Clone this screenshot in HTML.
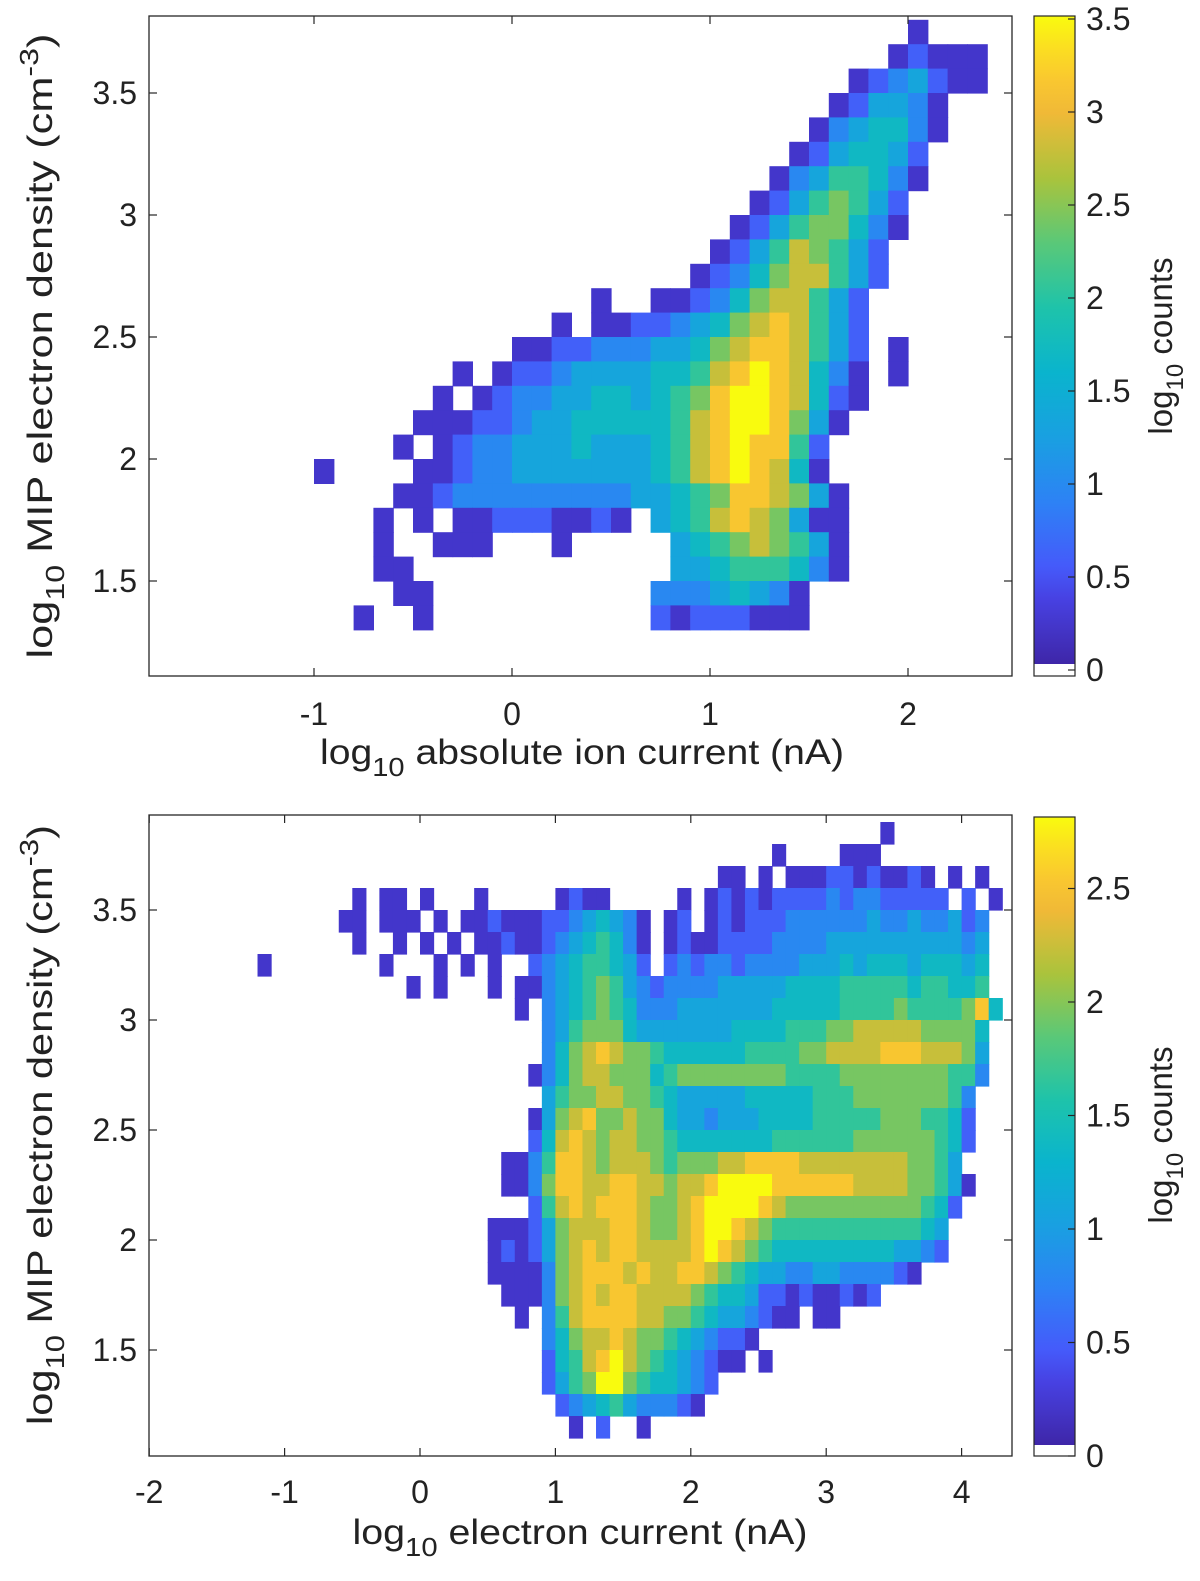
<!DOCTYPE html>
<html><head><meta charset="utf-8">
<style>
html,body{margin:0;padding:0;background:#fff;}
svg{display:block;font-family:"Liberation Sans",Arial,sans-serif;}
</style></head>
<body>
<svg id="fig" width="1200" height="1581" viewBox="0 0 1200 1581" xmlns="http://www.w3.org/2000/svg">
<defs>
<clipPath id="clipTop"><rect x="149" y="16" width="863" height="660"/></clipPath>
<clipPath id="clipBot"><rect x="149" y="815" width="863" height="641"/></clipPath>
<linearGradient id="gradTop" x1="0" y1="1" x2="0" y2="0"></linearGradient>
<linearGradient id="gradBot" x1="0" y1="1" x2="0" y2="0"></linearGradient>
</defs>
<g id="topPanel">
  <rect x="149" y="16" width="863" height="660" fill="#fff"/>
  <g id="heatTop" clip-path="url(#clipTop)"></g>
  <rect x="149" y="16" width="863" height="660" fill="none" stroke="#262626" stroke-width="1.3"/>
  <g id="ticksTop"></g>
  <text x="582" y="764" text-anchor="middle" font-size="35" fill="#222" textLength="524" lengthAdjust="spacingAndGlyphs">log<tspan font-size="26" dy="12">10</tspan><tspan dy="-12"> absolute ion current (nA)</tspan></text>
  <text transform="translate(52,346) rotate(-90)" text-anchor="middle" font-size="35" fill="#222" textLength="625" lengthAdjust="spacingAndGlyphs">log<tspan font-size="26" dy="12">10</tspan><tspan dy="-12"> MIP electron density (cm</tspan><tspan font-size="26" dy="-14">-3</tspan><tspan dy="14">)</tspan></text>
  <g id="cbTop"></g>
  <text transform="translate(1172,346) rotate(-90)" text-anchor="middle" font-size="33" fill="#222">log<tspan font-size="24" dy="11">10</tspan><tspan dy="-11"> counts</tspan></text>
</g>
<g id="botPanel">
  <rect x="149" y="815" width="863" height="641" fill="#fff"/>
  <g id="heatBot" clip-path="url(#clipBot)"></g>
  <rect x="149" y="815" width="863" height="641" fill="none" stroke="#262626" stroke-width="1.3"/>
  <g id="ticksBot"></g>
  <text x="580" y="1544" text-anchor="middle" font-size="35" fill="#222" textLength="455" lengthAdjust="spacingAndGlyphs">log<tspan font-size="26" dy="12">10</tspan><tspan dy="-12"> electron current (nA)</tspan></text>
  <text transform="translate(52,1125) rotate(-90)" text-anchor="middle" font-size="35" fill="#222" textLength="600" lengthAdjust="spacingAndGlyphs">log<tspan font-size="26" dy="12">10</tspan><tspan dy="-12"> MIP electron density (cm</tspan><tspan font-size="26" dy="-14">-3</tspan><tspan dy="14">)</tspan></text>
  <g id="cbBot"></g>
  <text transform="translate(1172,1135) rotate(-90)" text-anchor="middle" font-size="33" fill="#222">log<tspan font-size="24" dy="11">10</tspan><tspan dy="-11"> counts</tspan></text>
</g>
</svg>
<script>
// ---- data: top panel (digit 0-9 = fraction of max log10 counts, '.' = empty)
const topXTicks = [-1, 0, 1, 2];
const topYTicks = [1.5, 2, 2.5, 3, 3.5];
const topCbTicks = [0, 0.5, 1, 1.5, 2, 2.5, 3, 3.5];
const topMax = 3.5;
const topX0 = -1.0, topDX = 0.1, topYTop = 3.8, topDY = 0.1;
const topRows = [
"..............................0...",
".............................01000",
"...........................0123100",
"..........................013320..",
".........................0234420..",
"........................0134431...",
".......................02355420...",
"......................01356531....",
".....................013566420....",
"....................013576531.....",
"...................0124677531.....",
"..............0..00124677531......",
"............0.0011234678753 1......",
"..........001122233467887531.0....",
".......0.0112333344578987420.0....",
"......0.012233443456899874 10......",
".....000112334444457899863 0.......",
"....0.01223334333457898851........",
"0....001223333333457898740........",
"....001222222222334568876 30........",
"...0.0.0011100 10.34578763 00.......",
"...0..000...0.....34567653 0........",
"...00.............3345554 20........",
"....00...........2223432 0.........",
"..0..0...........1011100 0........."
];
// ---- data: bottom panel
const botXTicks = [-2, -1, 0, 1, 2, 3, 4];
const botYTicks = [1.5, 2, 2.5, 3, 3.5];
const botCbTicks = [0, 0.5, 1, 1.5, 2, 2.5];
const botMax = 2.8;
const botX0 = -1.2, botDX = 0.1, botYTop = 3.9, botDY = 0.1;
const botRows = [
"..... ..... ..... ..... ..... ..... ..... ..... ..... .0... .....",
"..... ..... ..... ..... ..... ..... ..... ...0. ...00 0.... .....",
"..... ..... ..... ..... ..... ..... ....0 0.0.0 00110 10010 .0.0.",
"..... ..0.0 0.0.. .0... ..010 0.... .0.01 01011 11212 21111 1.1.0",
"..... .00.0 00.0. 00100 01123 4320. 01.01 01112 22222 32232 2312.",
"..... ..0.. 0.0.0 .0010 01234 5420. 01001 11122 22333 33333 3323.",
"0.... ....0 ...0. 0.0.. 12345 5431. 12122 12222 33343 44434 4434.",
"..... ..... .0.0. ..0.0 02345 65321 22223 33334 44455 55545 5445.",
"..... ..... ..... ....0 .2345 65422 23333 33344 44455 55655 55684",
"..... ..... ..... ..... .2356 66433 33333 44445 55667 77776 6664.",
"..... ..... ..... ..... .2467 87665 44444 45555 66777 78887 7763.",
"..... ..... ..... ..... 02467 76664 56666 66665 55566 66666 6552.",
"..... ..... ..... ..... .3566 77665 43333 34444 45556 66666 652..",
"..... ..... ..... ..... 03678 66766 43323 33444 45555 56665 541..",
"..... ..... ..... ..... 14787 67766 54444 44455 55556 66666 541..",
"..... ..... ..... ...00 25887 67776 56667 78888 77777 77766 53...",
"..... ..... ..... ...00 26887 78877 67789 99988 88887 77766 530..",
"..... ..... ..... ..... 15787 88876 67899 99876 66666 66665 41...",
"..... ..... ..... ..000 13677 78876 67899 87655 55555 55554 3....",
"..... ..... ..... ..010 13678 78877 77898 76544 44444 44332 1....",
"..... ..... ..... ..000 02678 88787 78876 54332 23322 2210. .....",
"..... ..... ..... ...00 02678 78877 77654 43110 10010 1.... .....",
"..... ..... ..... ....0 .2578 88877 66543 32100 .00.. ..... .....",
"..... ..... ..... ..... .2467 78766 54321 10... ..... ..... .....",
"..... ..... ..... ..... .1457 89765 43210 0.0.. ..... ..... .....",
"..... ..... ..... ..... .1356 99654 4321. ..... ..... ..... .....",
"..... ..... ..... ..... ..123 45322 210.. ..... ..... ..... .....",
"..... ..... ..... ..... ...0. 1..0. ..... ..... ..... ..... ....."
];

const NS = "http://www.w3.org/2000/svg";
const PAR = [[0,62,38,168],[0.1,71,65,226],[0.15,69,90,250],[0.25,45,130,245],[0.35,25,160,225],[0.45,10,180,205],[0.55,30,195,170],[0.65,90,200,120],[0.75,170,195,60],[0.85,240,185,55],[0.92,252,205,45],[1,249,251,14]];
function parula(t){
  t=Math.max(0,Math.min(1,t));
  for(let i=1;i<PAR.length;i++){
    if(t<=PAR[i][0]){const a=PAR[i-1],b=PAR[i],f=(t-a[0])/(b[0]-a[0]);
      return "rgb("+[1,2,3].map(k=>Math.round(a[k]+(b[k]-a[k])*f)).join(",")+")";}
  }
  return "rgb(249,251,14)";
}
function mk(tag,attrs,parent){const e=document.createElementNS(NS,tag);for(const k in attrs)e.setAttribute(k,attrs[k]);parent.appendChild(e);return e;}

// axis functions
const topXs = v => 512 + v*198;
const topYs = v => 93 - (v-3.5)*244;
const botXs = v => 420 + v*135.4;
const botYs = v => 910 - (v-3.5)*220;
const topCb = v => 670 - v*186;
const botCb = v => 1456 - v*227;

function heat(g, rows, x0, dx, yTop, dy, xs, ys, maxV){
  rows.forEach((row, r)=>{
    const s=row.replace(/ /g,"");
    for(let c=0;c<s.length;c++){
      const ch=s[c]; if(ch==='.') continue;
      const v=(+ch)/9*maxV;
      const xa=xs(x0+c*dx), xb=xs(x0+(c+1)*dx);
      const ya=ys(yTop-r*dy), yb=ys(yTop-(r+1)*dy);
      const e=mk('rect',{x:xa.toFixed(2),y:ya.toFixed(2),width:(xb-xa+0.6).toFixed(2),height:(yb-ya+0.6).toFixed(2),fill:parula(0.06+0.94*v/maxV)},g);
      
      
    }
  });
}
heat(document.getElementById('heatTop'), topRows, topX0, topDX, topYTop, topDY, topXs, topYs, topMax);
heat(document.getElementById('heatBot'), botRows, botX0, botDX, botYTop, botDY, botXs, botYs, botMax);

function ticks(g, xt, yt, xs, ys, L, R, T, B, xLabY){
  xt.forEach(v=>{
    const x=xs(v);
    mk('line',{x1:x,x2:x,y1:B,y2:B-8,stroke:'#262626','stroke-width':1.2},g);
    mk('line',{x1:x,x2:x,y1:T,y2:T+8,stroke:'#262626','stroke-width':1.2},g);
    const t=mk('text',{x:x,y:xLabY,'text-anchor':'middle','font-size':32,fill:'#222'},g);
    t.textContent=String(v);
    
    
  });
  yt.forEach(v=>{
    const y=ys(v);
    mk('line',{x1:L,x2:L+8,y1:y,y2:y,stroke:'#262626','stroke-width':1.2},g);
    mk('line',{x1:R,x2:R-8,y1:y,y2:y,stroke:'#262626','stroke-width':1.2},g);
    const t=mk('text',{x:137,y:y+11,'text-anchor':'end','font-size':32,fill:'#222'},g);
    t.textContent=String(v);
    
    
  });
}
ticks(document.getElementById('ticksTop'), topXTicks, topYTicks, topXs, topYs, 149, 1012, 16, 676, 725);
ticks(document.getElementById('ticksBot'), botXTicks, botYTicks, botXs, botYs, 149, 1012, 815, 1456, 1503);

function colorbar(g, gradId, cbTicks, cbs, top, whiteTop, bottom){
  const grad=document.getElementById(gradId);
  for(let i=0;i<=20;i++){mk('stop',{offset:(i/20),'stop-color':parula(i/20)},grad);}
  const r=mk('rect',{x:1034,y:top,width:41,height:whiteTop-top,fill:'url(#'+gradId+')'},g);
  
  
  mk('rect',{x:1034,y:whiteTop,width:41,height:bottom-whiteTop,fill:'#fff'},g);
  mk('rect',{x:1034,y:top,width:41,height:bottom-top,fill:'none',stroke:'#262626','stroke-width':1.2},g);
  cbTicks.forEach(v=>{
    const y=cbs(v);
    mk('line',{x1:1075,x2:1068,y1:y,y2:y,stroke:'#262626','stroke-width':1.2},g);
    const t=mk('text',{x:1086,y:y+11,'font-size':32,fill:'#222'},g);
    t.textContent=String(v);
    
    
  });
}
colorbar(document.getElementById('cbTop'), 'gradTop', topCbTicks, topCb, 16, 664, 676);
colorbar(document.getElementById('cbBot'), 'gradBot', botCbTicks, botCb, 817, 1445, 1456);
</script>
</body></html>
